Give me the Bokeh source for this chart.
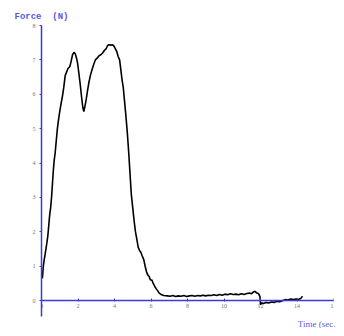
from bokeh.plotting import figure
from bokeh.models import Range1d, FixedTicker, Title
from bokeh.embed import file_html
from bokeh.resources import INLINE

time_s = [0.05, 0.1, 0.15, 0.2, 0.3, 0.35, 0.4, 0.45, 0.5, 0.55, 0.6, 0.65, 0.7, 0.75, 0.8,
          0.87, 0.93, 1.0, 1.08, 1.15, 1.22, 1.3, 1.38, 1.45, 1.55, 1.62, 1.7, 1.78, 1.85,
          1.92, 1.98, 2.05, 2.12, 2.2, 2.27, 2.32, 2.38, 2.45, 2.52, 2.6, 2.68, 2.76, 2.85,
          2.95, 3.05, 3.15, 3.25, 3.35, 3.45, 3.55, 3.62, 3.7, 3.8, 3.9, 3.97, 4.05, 4.12,
          4.2, 4.28, 4.35, 4.42, 4.48, 4.55, 4.62, 4.7, 4.78, 4.85, 4.92, 5.0, 5.08, 5.15,
          5.22, 5.3, 5.38, 5.45, 5.52, 5.6, 5.68, 5.75, 5.82, 5.9, 5.97, 6.05, 6.12, 6.2,
          6.28, 6.35, 6.45, 6.55, 6.7, 6.9, 7.05, 7.2, 7.35, 7.5, 7.65, 7.8, 7.95, 8.1, 8.25,
          8.4, 8.55, 8.7, 8.85, 9.0, 9.15, 9.3, 9.45, 9.6, 9.75, 9.9, 10.05, 10.2, 10.35,
          10.5, 10.65, 10.8, 10.95, 11.1, 11.25, 11.4, 11.5, 11.6, 11.7, 11.8, 11.9, 11.97,
          12.0, 12.05, 12.15, 12.3, 12.45, 12.6, 12.75, 12.9, 13.05, 13.2, 13.35, 13.5,
          13.65, 13.8, 13.95, 14.1, 14.2, 14.3]
force_n = [0.65, 1.0, 1.2, 1.35, 1.7, 1.9, 2.2, 2.5, 2.7, 3.0, 3.4, 3.8, 4.1, 4.3, 4.6,
           5.0, 5.25, 5.5, 5.75, 5.95, 6.2, 6.55, 6.65, 6.75, 6.8, 6.95, 7.15, 7.22, 7.18,
           7.05, 6.9, 6.6, 6.3, 5.9, 5.6, 5.5, 5.65, 5.85, 6.1, 6.35, 6.55, 6.7, 6.85,
           7.0, 7.05, 7.12, 7.15, 7.2, 7.28, 7.33, 7.42, 7.44, 7.43, 7.44, 7.4, 7.32, 7.25,
           7.1, 7.0, 6.7, 6.4, 6.2, 5.8, 5.4, 4.9, 4.3, 3.7, 3.1, 2.7, 2.3, 2.0,
           1.8, 1.55, 1.45, 1.4, 1.3, 1.2, 1.0, 0.85, 0.75, 0.7, 0.6, 0.6, 0.5, 0.42,
           0.35, 0.3, 0.22, 0.18, 0.15, 0.14, 0.13, 0.15, 0.12, 0.14, 0.13, 0.15, 0.12, 0.14, 0.15,
           0.13, 0.15, 0.14, 0.16, 0.14, 0.16, 0.15, 0.17, 0.15, 0.18, 0.16, 0.19, 0.17, 0.2,
           0.18, 0.19, 0.17, 0.2, 0.18, 0.21, 0.22, 0.2, 0.25, 0.27, 0.22, 0.2, 0.12,
           -0.12, -0.06, -0.08, -0.05, -0.07, -0.04, -0.05, -0.02, -0.03, 0.0, 0.03, 0.02,
           0.05, 0.03, 0.05, 0.04, 0.06, 0.13]

x_ticks = [0, 2, 4, 6, 8, 10, 12, 14, 16]
y_ticks = [-1, 0, 1, 2, 3, 4, 5, 6, 7, 8]
y_label = "Force\u00a0\u00a0(N)"
x_label = "Time (sec."

AXIS = "#3a3ad8"
TITLE = "#5a5ae6"

p = figure(width=336, height=328, output_backend="svg", toolbar_location=None,
           x_range=Range1d(0, 16), y_range=Range1d(-0.46, 8),
           min_border_left=41, min_border_right=3, min_border_top=25, min_border_bottom=0)
p.outline_line_color = None
p.xgrid.visible = False
p.ygrid.visible = False

p.line(time_s, force_n, line_color="black", line_width=1.6)

for ax in (p.xaxis[0], p.yaxis[0]):
    ax.axis_line_color = AXIS
    ax.axis_line_width = 1.5
    ax.major_tick_line_color = AXIS
    ax.minor_tick_line_color = None
    ax.major_label_text_font = "Liberation Serif"
    ax.major_label_text_font_size = "6px"
    ax.major_label_text_color = "#777777"

p.xaxis.ticker = FixedTicker(ticks=x_ticks)
p.yaxis.ticker = FixedTicker(ticks=y_ticks)
p.xaxis.fixed_location = 0
p.xaxis.major_tick_in = 2
p.xaxis.major_tick_out = 1
p.xaxis.major_label_standoff = 2
p.yaxis.major_tick_in = 0
p.yaxis.major_tick_out = 2
p.yaxis.major_label_standoff = 4

p.add_layout(Title(text=y_label, align="left", offset=-27, standoff=8,
                   text_font="Liberation Mono", text_font_size="9px", text_font_style="bold",
                   text_color=TITLE), "above")
p.add_layout(Title(text=x_label, align="right", offset=-2, standoff=0,
                   text_font="Liberation Serif", text_font_size="9px", text_font_style="normal",
                   text_color=TITLE), "below")

open("out.html", "w").write(file_html(p, INLINE))
